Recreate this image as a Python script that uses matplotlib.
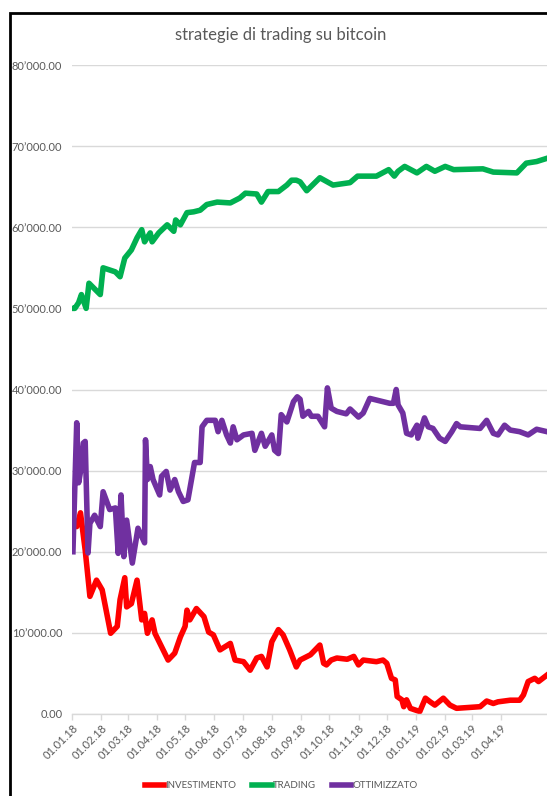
import pandas as pd
import matplotlib
matplotlib.use('Agg')
import matplotlib.pyplot as plt
import matplotlib.dates as mdates
from matplotlib.patches import Rectangle
from matplotlib.ticker import FuncFormatter

# giorni dal 01.01.18 e valori
inizio = '2018-01-01'
fine_giorni = 504

giorni_trading = [0, 3, 7, 10, 12, 15, 18, 30, 33, 46, 51, 56, 63, 69, 74, 77, 83, 85,
                  92, 101, 108, 110, 115, 122, 129, 136, 143, 154, 168, 178, 184, 196,
                  201, 208, 219, 228, 233, 238, 242, 249, 263, 277, 295, 303, 323, 336,
                  342, 346, 353, 366, 376, 385, 396, 405, 436, 447, 472, 482, 493, 504]
trading = [50000, 50000, 50700, 51700, 51000, 50000, 53100, 51700, 55000, 54500, 53900,
           56200, 57200, 58700, 59700, 58200, 59300, 58200, 59300, 60300, 59500, 60900,
           60300, 61800, 61900, 62100, 62800, 63100, 63000, 63600, 64200, 64100, 63100,
           64400, 64400, 65200, 65800, 65800, 65600, 64500, 66100, 65200, 65500, 66300,
           66300, 67100, 66300, 66900, 67500, 66700, 67500, 66900, 67500, 67100, 67200,
           66800, 66700, 67900, 68100, 68500]

giorni_ottimizzato = [1, 3, 5, 7, 10, 12, 14, 17, 19, 24, 30, 33, 40, 46, 49, 52, 55, 58,
                      64, 70, 77, 78, 80, 83, 86, 93, 95, 100, 104, 109, 113, 118, 123,
                      130, 136, 138, 143, 152, 155, 159, 164, 168, 171, 175, 182, 191, 194,
                      201, 205, 212, 215, 219, 222, 228, 235, 239, 242, 245, 251, 254, 261,
                      268, 271, 275, 281, 291, 295, 304, 309, 316, 337, 341, 344, 346, 351,
                      355, 360, 366, 367, 374, 378, 383, 390, 396, 403, 408, 412, 433, 440,
                      447, 452, 459, 465, 475, 484, 493, 504]
ottimizzato = [20000, 28000, 35900, 28500, 30500, 33400, 33600, 19850, 23500, 24500, 23100,
               27400, 25200, 25400, 19800, 27000, 19400, 23900, 18600, 22900, 21100, 33800,
               28900, 30500, 28900, 27000, 29300, 29900, 27600, 28900, 27400, 26200, 26400,
               31000, 31000, 35400, 36200, 36200, 34800, 36200, 34400, 33400, 35400, 33800,
               34400, 34600, 32500, 34600, 33000, 34400, 32500, 32100, 36900, 36000, 38500,
               39100, 38800, 36700, 37300, 36700, 36700, 35400, 40200, 37700, 37300, 37000,
               37600, 36600, 37100, 38900, 38300, 38300, 40000, 38100, 37100, 34600, 34400,
               35600, 34000, 36500, 35400, 35200, 34000, 33600, 34800, 35800, 35400, 35200,
               36200, 34600, 34400, 35600, 35000, 34800, 34400, 35100, 34800]

giorni_investimento = [1, 5, 9, 14, 19, 26, 32, 41, 48, 51, 56, 58, 63, 69, 74, 77, 80, 85,
                       88, 102, 109, 115, 120, 122, 125, 132, 140, 145, 150, 157, 168, 173,
                       182, 189, 196, 201, 207, 212, 219, 224, 231, 238, 242, 253, 263, 267,
                       270, 275, 281, 292, 299, 304, 309, 323, 330, 334, 339, 343, 345, 350,
                       352, 355, 359, 364, 369, 375, 380, 385, 394, 401, 408, 433, 440, 447,
                       452, 465, 475, 479, 484, 491, 495, 504]
investimento = [23500, 23100, 24800, 20200, 14500, 16500, 15300, 9950, 10800, 14100, 16800,
                13200, 13600, 16500, 11600, 12400, 9950, 11600, 9950, 6650, 7500, 9500,
                10800, 12800, 11600, 13000, 12000, 10100, 9750, 7900, 8700, 6650, 6450,
                5400, 6900, 7100, 5800, 8900, 10400, 9750, 7900, 5800, 6650, 7300, 8500,
                6250, 6050, 6650, 6900, 6750, 7100, 6050, 6650, 6450, 6650, 6250, 4400,
                4200, 2150, 1750, 900, 1750, 700, 500, 300, 1950, 1500, 1100, 1950, 1100,
                700, 900, 1600, 1300, 1500, 1700, 1700, 2350, 4000, 4400, 4000, 4800]

mesi = pd.date_range('2018-01-01', '2019-04-01', freq='MS')
y_ticks = [0, 10000, 20000, 30000, 40000, 50000, 60000, 70000, 80000]


def to_dates(giorni):
    return pd.Timestamp(inizio) + pd.to_timedelta(giorni, unit='D')


def fmt_y(v, pos):
    return "{:,.2f}".format(v).replace(',', '\u2019')


grey = '#595959'
light = '#D9D9D9'

plt.rcParams['font.family'] = ['Lato', 'DejaVu Sans']

fig = plt.figure(figsize=(5.47, 7.96), dpi=100)
ax = fig.add_axes([72 / 547, 1 - 714 / 796, 1 - 72 / 547, (714 - 65) / 796])

ax.plot(to_dates(giorni_investimento), investimento, color='#FF0000', lw=4,
        label='INVESTIMENTO', solid_joinstyle='round')
ax.plot(to_dates(giorni_trading), trading, color='#00B050', lw=4,
        label='TRADING', solid_joinstyle='round')
ax.plot(to_dates(giorni_ottimizzato), ottimizzato, color='#7030A0', lw=4,
        label='OTTIMIZZATO', solid_joinstyle='round')

ax.set_xlim(pd.Timestamp(inizio), pd.Timestamp(inizio) + pd.Timedelta(days=fine_giorni))
ax.set_ylim(0, 80000)
ax.set_yticks(y_ticks)
ax.yaxis.set_major_formatter(FuncFormatter(fmt_y))
ax.set_xticks(mesi)
ax.xaxis.set_major_formatter(mdates.DateFormatter('%d.%m.%y'))

ax.grid(axis='y', color=light, lw=1)
ax.set_axisbelow(True)
for s in ['top', 'right', 'left']:
    ax.spines[s].set_visible(False)
ax.spines['bottom'].set_color(light)
ax.spines['bottom'].set_linewidth(1)

ax.tick_params(axis='y', length=0, pad=7, labelsize=8, labelcolor=grey)
ax.tick_params(axis='x', length=4, width=1, color=light, pad=2, labelsize=8,
               labelcolor=grey)
plt.setp(ax.get_xticklabels(), rotation=45, ha='right', rotation_mode='anchor')

fig.text(0.514, 1 - 35 / 796, 'strategie di trading su bitcoin', ha='center',
         va='center', fontsize=12, color=grey)

leg = fig.legend(loc='center', bbox_to_anchor=(0.514, 1 - 786 / 796), ncol=3,
                 frameon=False, fontsize=7, handlelength=2.0, handletextpad=0.15,
                 columnspacing=1.6)
for t in leg.get_texts():
    t.set_color(grey)

# cornice nera del grafico (tagliata a destra e in basso)
fig.patches.append(Rectangle((10 / 547, -0.05), 1.2, 1 - 13 / 796 + 0.05,
                             transform=fig.transFigure, fill=False,
                             edgecolor='black', lw=2))

plt.savefig('out.png', dpi=100)
